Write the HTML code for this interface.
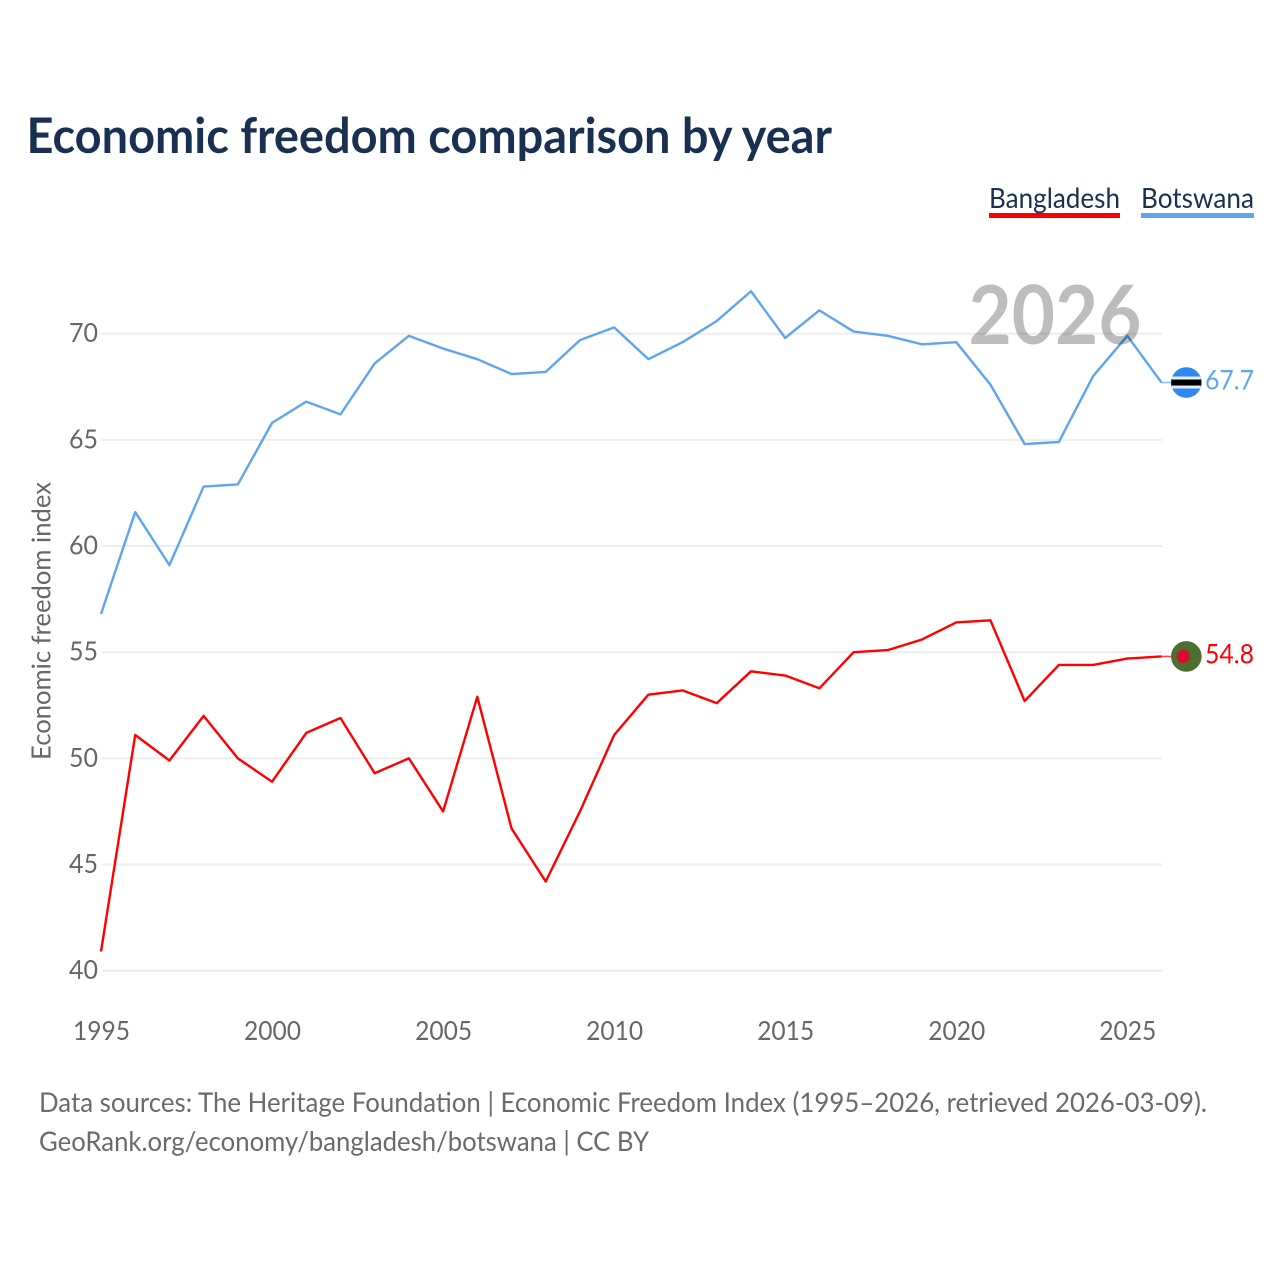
<!DOCTYPE html>
<html lang="en">
<head>
<meta charset="utf-8">
<title>Economic freedom comparison by year</title>
<style>
html,body{margin:0;padding:0;background:#fff;width:1280px;height:1280px;overflow:hidden}
svg{display:block}
text{font-family:"Lato","Carlito","Liberation Sans",sans-serif}
.tick{fill:#666;font-size:26px}
.src{fill:#6a6a6a;font-size:27px}
</style>
</head>
<body>
<svg id="chart" xmlns="http://www.w3.org/2000/svg" width="1280" height="1280" viewBox="0 0 1280 1280">
  <rect x="0" y="0" width="1280" height="1280" fill="#fff"/>
  <text x="26.5" y="153" font-size="49" font-weight="700" fill="#1a3050" textLength="805.5" lengthAdjust="spacingAndGlyphs">Economic freedom comparison by year</text>

  <g>
    <g>
      <text x="989" y="208" font-size="28" fill="#1a3050" textLength="131" lengthAdjust="spacingAndGlyphs">Bangladesh</text>
      <rect x="989" y="213" width="131" height="5" fill="#ff0000"/>
    </g>
    <g>
      <text x="1141" y="208" font-size="28" fill="#1a3050" textLength="113" lengthAdjust="spacingAndGlyphs">Botswana</text>
      <rect x="1141" y="213" width="113" height="5" fill="#5ea5ee"/>
    </g>
  </g>

  <g id="grid"></g>
  <g id="yticks"></g>
  <g id="xticks"></g>
  <text transform="translate(50.5,621) rotate(-90)" text-anchor="middle" font-size="26" fill="#666" textLength="278" lengthAdjust="spacingAndGlyphs">Economic freedom index</text>
  <g id="series"></g>

  <text x="968.5" y="344" font-size="81" font-weight="700" fill="#000" fill-opacity="0.26" textLength="173" lengthAdjust="spacingAndGlyphs">2026</text>

  <g id="ends"></g>

  <g>
    <text class="src" x="39" y="1112" textLength="1168" lengthAdjust="spacingAndGlyphs">Data sources: The Heritage Foundation | Economic Freedom Index (1995–2026, retrieved 2026-03-09).</text>
    <text class="src" x="39" y="1151" textLength="610" lengthAdjust="spacingAndGlyphs">GeoRank.org/economy/bangladesh/botswana | CC BY</text>
  </g>
</svg>
<script>
const years = [1995,1996,1997,1998,1999,2000,2001,2002,2003,2004,2005,2006,2007,2008,2009,2010,2011,2012,2013,2014,2015,2016,2017,2018,2019,2020,2021,2022,2023,2024,2025,2026];
const bangladesh = [40.9,51.1,49.9,52.0,50.0,48.9,51.2,51.9,49.3,50.0,47.5,52.9,46.7,44.2,47.5,51.1,53.0,53.2,52.6,54.1,53.9,53.3,55.0,55.1,55.6,56.4,56.5,52.7,54.4,54.4,54.7,54.8];
const botswana = [56.8,61.6,59.1,62.8,62.9,65.8,66.8,66.2,68.6,69.9,69.3,68.8,68.1,68.2,69.7,70.3,68.8,69.6,70.6,72.0,69.8,71.1,70.1,69.9,69.5,69.6,67.6,64.8,64.9,68.0,69.9,67.7];
const yTickValues = [40,45,50,55,60,65,70];
const xTickValues = [1995,2000,2005,2010,2015,2020,2025];

const NS = 'http://www.w3.org/2000/svg';
const X0 = 101, X1 = 1161.5, Y40 = 970.7, Y70 = 333.7;
function xScale(year){ return X0 + (year - years[0]) * (X1 - X0) / (years[years.length - 1] - years[0]); }
function yScale(v){ return Y40 + (v - 40) * (Y70 - Y40) / 30; }
function make(tag, attrs, parent, text){
  const el = document.createElementNS(NS, tag);
  for (const k in attrs) el.setAttribute(k, attrs[k]);
  if (text !== undefined) el.textContent = text;
  parent.appendChild(el);
  return el;
}
const grid = document.getElementById('grid');
const yticks = document.getElementById('yticks');
const xticks = document.getElementById('xticks');
const seriesGroup = document.getElementById('series');
const ends = document.getElementById('ends');

yTickValues.forEach(function(v){
  const line = make('line', {x1:X0 + 0.5, x2:X1 + 0.5, y1:yScale(v), y2:yScale(v), stroke:'#eeeeee', 'stroke-width':2}, grid);
  
  
  const label = make('text', {x:98, y:yScale(v) + 8.5, 'text-anchor':'end', class:'tick', textLength:29, lengthAdjust:'spacingAndGlyphs'}, yticks, String(v));
  
  
});
xTickValues.forEach(function(y){
  const label = make('text', {x:xScale(y) + 0.5, y:1040, 'text-anchor':'middle', class:'tick', textLength:57, lengthAdjust:'spacingAndGlyphs'}, xticks, String(y));
  
  
});

function drawSeries(values, color, name){
  const pts = values.map(function(v, i){ return xScale(years[i]).toFixed(2) + ',' + yScale(v).toFixed(2); }).join(' ');
  const line = make('polyline', {points:pts, fill:'none', stroke:color, 'stroke-width':2.4, 'stroke-linejoin':'round'}, seriesGroup);
  
  

  const lastV = values[values.length - 1];
  const ly = yScale(lastV);
  const conn = make('line', {x1:X1, x2:1172, y1:ly, y2:ly, stroke:color, 'stroke-width':1.5, 'stroke-opacity':0.75}, ends);
  
  

  const valueLabel = make('text', {x:1254, y:ly + 7, 'text-anchor':'end', 'font-size':27, fill:color, textLength:49, lengthAdjust:'spacingAndGlyphs'}, ends, lastV.toFixed(1));
  
  
  return ly;
}
const bdY = drawSeries(bangladesh, '#ff0000', 'bangladesh');
const bwY = drawSeries(botswana, '#5ea5ee', 'botswana');

const bdFlag = make('g', {}, ends);


make('circle', {cx:1186.3, cy:bdY, r:15.3, fill:'#4a6f2e'}, bdFlag);
make('circle', {cx:1183.3, cy:bdY, r:6.6, fill:'#dc0a2e'}, bdFlag);

const bwFlag = make('g', {}, ends);


make('circle', {cx:1186.3, cy:bwY, r:15.3, fill:'#2f87f2'}, bwFlag);
make('rect', {x:1171.9, y:bwY - 6, width:28.8, height:12, fill:'#e8eef6'}, bwFlag);
make('rect', {x:1171.3, y:bwY - 3, width:30, height:6, fill:'#000'}, bwFlag);
</script>
</body>
</html>
